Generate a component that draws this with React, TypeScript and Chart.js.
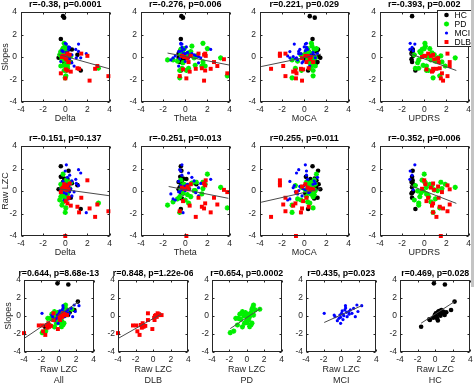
import React, { useEffect, useRef } from 'react';
import { Chart, registerables } from 'chart.js';

Chart.register(...registerables);

const FONT = '"Liberation Sans", Arial, Helvetica, sans-serif';
Chart.defaults.font.family = FONT;

// ---------------- data (z-scored values) ----------------
const GROUPS = ['HC', 'PD', 'MCI', 'DLB'];
const TICK_VALUES = [-4, -2, 0, 2, 4];

// HC
const HC_LZC = [-1.6, -0.67, -0.6, -0.22, -0.15, -0.04, 0.07, 0.15, 0.2, 0.33, 0.45, 0.52, 0.6, 0.7, 0.8, 0.96, 1.07, 1.1, 1.26, 1.8, 2.2, 0.3];
const HC_SLOPE = [-1.2, -0.37, -0.44, -0.19, 3.63, 0.11, 0.3, -0.07, -0.26, 0.48, 0.56, 0.19, 0.04, 0.67, 0.3, 0.48, 0.11, 3.5, 0.41, 0.67, 1.6, -0.5];
const HC_DELTA = [1.4, 0.1, 0.5, -0.3, -0.2, -0.1, 0.0, -0.6, 0.2, -0.3, 0.1, 1.1, 0.3, 0.6, -0.2, 0.0, 0.2, -0.1, -0.4, 0.3, -0.4, -0.1];
const HC_THETA = [-0.4, -0.3, -0.5, -0.2, -0.35, -0.4, -0.3, -0.6, -0.1, -0.5, -0.2, -0.3, 1.0, -0.4, -0.6, -0.3, 0.1, -0.2, -0.45, -0.35, -0.4, -0.25];
const HC_MOCA = [0.35, 0.9, 1.2, 0.1, 0.5, 0.6, 0.2, 1.45, 0.8, 0.4, 1.0, 0.7, 1.3, 0.9, 0.3, 1.1, 0.55, 0.95, 0.15, 1.25, 0.75, 1.1];
const HC_UPDRS = [-0.8, null, -1.1, -1.15, -1.1, -1.0, null, null, null, -1.1, null, null, null, -1.05, -1.15, -1.05, null, null, -1.1, -1.05, null, null];

// PD
const PD_LZC = [-1.9, -1.5, -1.26, -0.96, -1.07, -0.7, -0.5, -0.33, -0.26, -0.15, 0.04, 0.04, 0.1, 0.22, 0.33, 0.48, 0.6, 0.6, 0.7, 0.78, 0.48, 0.96, 0.33, 0.78, -0.5, 0.0, 1.5, -0.8];
const PD_SLOPE = [-1.85, -1.67, -0.26, -0.26, -1.0, -0.37, 0.48, 0.0, -0.8, 0.37, -0.07, -0.74, 0.22, -0.44, -1.18, 0.37, -0.8, 0.74, 0.96, 1.22, -1.0, 0.67, -0.07, 0.1, -1.2, -0.5, 0.75, 0.2];
const PD_DELTA = [0.0, 0.05, -0.3, -0.2, 3.0, 0.1, -0.4, 0.0, 0.2, -0.3, 0.3, -0.1, -0.2, 0.4, 0.1, -0.1, -0.4, -0.2, 0.0, -0.1, 0.2, 0.1, -0.3, 0.5, -0.1, 0.3, -0.2, -0.5];
const PD_THETA = [-0.5, 3.8, -1.6, -1.1, 0.3, -0.7, 0.5, 0.2, 1.5, -0.2, 0.8, 0.9, -0.4, 1.6, 0.1, 0.3, 1.8, -0.1, 0.6, 1.6, -0.3, -0.4, 3.2, 1.0, -0.5, -0.2, 2.0, 0.0];
const PD_MOCA = [-1.1, 0.8, -1.1, 0.3, 0.5, -0.6, 0.2, 0.9, 0.6, 0.4, 1.0, 0.7, 0.1, 0.8, -0.25, 0.5, 1.0, 0.3, 0.7, 0.65, -0.8, 0.9, 0.6, 0.2, 0.8, 0.5, 1.1, -0.3];
const PD_UPDRS = [0.8, 1.4, -0.5, 0.6, -0.5, 1.0, -0.4, 0.3, 0.2, -0.3, 1.2, -0.1, 0.9, 1.6, 0.2, 0.7, 1.9, 0.5, 0.1, 0.06, -0.8, -0.2, 2.8, 1.5, 0.4, -0.6, 0.0, -0.9];

// MCI
const MCI_LZC = [-1.93, -0.7, -0.44, -0.26, -0.15, -0.07, 0.04, 0.11, 0.19, 0.3, 0.41, 0.48, 0.6, 0.67, 0.85, 1.04, 1.22, 1.41, 1.6, 1.78, 2.33, -0.07, -0.8, 0.9, 0.2, 1.9, 0.5];
const MCI_SLOPE = [0.3, -0.07, -0.52, -0.26, 0.11, -0.15, 0.3, 0.56, 0.19, 0.04, 0.67, 1.15, 0.41, -0.07, 0.48, 0.67, 0.3, 0.85, -0.07, 1.22, 1.15, -0.81, 0.1, 0.2, -0.4, 0.5, 0.9];
const MCI_DELTA = [1.9, 0.3, 0.6, 0.1, -0.1, 0.4, 0.2, -0.3, 0.5, 0.0, 0.3, 1.2, 0.1, 1.0, -0.2, 0.95, 0.2, 0.4, 1.4, 0.0, 0.1, 0.8, -0.1, 0.6, -0.4, 1.2, 0.3];
const MCI_THETA = [-0.2, -1.1, 1.2, -1.3, 0.95, -0.5, 0.0, -0.3, 0.4, 1.2, -0.1, -0.4, 0.2, 1.4, -0.6, 2.3, 0.6, -0.3, 0.3, -0.4, -0.3, -0.6, -0.9, 0.8, 0.0, -0.5, 0.1];
const MCI_MOCA = [-0.3, -1.3, -0.2, -0.6, 0.4, -0.8, -0.5, 0.1, 0.6, -1.0, -0.4, -0.9, 0.8, 1.0, -1.3, 0.3, 1.2, 0.2, -0.7, 0.2, 0.1, 0.5, -1.5, 0.9, -0.1, -0.5, 0.0];
const MCI_UPDRS = [null, null, null, null, null, null, null, -1.0, null, null, null, null, null, null, null, -1.3, null, -1.1, null, -1.27, -0.85, null, null, null, null, null, null];

// DLB
const DLB_LZC = [-4.0, -2.3, -1.9, -1.8, -1.55, -1.4, -1.2, -1.1, -0.9, -0.6, -0.6, -0.1, 0.1, 0.15, 0.3, 0.4, 0.5, 0.6, 0.67, 0.95, 0.2, -1.3];
const DLB_SLOPE = [-1.9, -1.05, -1.05, -1.7, -2.1, -1.0, -0.8, -1.2, -1.1, -0.45, 0.3, -1.45, -0.2, -0.45, 0.1, -0.1, 0.3, 0.1, 0.2, 0.1, 0.0, -1.3];
const DLB_DELTA = [0.0, 2.7, 1.25, 3.9, 2.2, 1.1, 2.9, 0.2, 0.05, 0.3, 1.45, -0.4, 0.1, 0.3, -0.2, 0.0, 0.2, -0.1, 0.4, 2.0, -0.3, 0.5];
const DLB_THETA = [0.1, 0.95, 2.3, -0.5, 1.7, 1.5, 2.9, 1.8, -0.2, 2.6, 1.2, 3.8, 3.5, 0.3, -0.3, 0.2, 1.8, 0.5, 1.7, 1.85, -0.1, 0.4];
const DLB_MOCA = [-0.75, -3.0, -0.3, -1.7, -0.2, 0.4, -1.9, -0.8, -0.1, 0.2, -1.7, -0.7, 0.5, 0.8, 0.3, -0.2, -2.2, 0.1, -2.2, -2.2, 0.6, -1.0];
const DLB_UPDRS = [1.5, 1.1, 0.8, 2.1, 1.7, 1.4, 2.3, 0.8, 0.2, 1.3, 0.35, 1.6, 0.9, 2.3, 0.6, 1.25, 2.1, 0.1, 0.8, 0.0, -0.2, 0.7];

// least-squares lines [x1, y1, x2, y2]
const ROW1_FITS = [[-0.6, 0.22, 4, -1.05], [-1.6, 0.35, 4, -0.72], [-3.9, -0.85, 1.5, 0.25], [-1.3, 0.3, 2.9, -1.2]];
const ROW2_FITS = [[-0.6, 0.2, 4, -0.42], [-1.5, 0.4, 3.9, -0.65], [-3.9, -1.0, 1.5, 0.2], [-1.3, 0.5, 2.9, -1.1]];
const ROW3_FITS = [[-4, -2.5, 2.3, 1.6], [-4, -2.5, 0.95, 0.25], [-1.9, -1.4, 1.6, 0.85], [-1.93, -0.72, 2.33, 1.15], [-1.6, -0.8, 2.2, 1.6]];

const ROW1_TITLES = ['r=-0.38, p=0.0001', 'r=-0.276, p=0.006', 'r=0.221, p=0.029', 'r=-0.393, p=0.002'];
const ROW2_TITLES = ['r=-0.151, p=0.137', 'r=-0.251, p=0.013', 'r=0.255, p=0.011', 'r=-0.352, p=0.006'];
const ROW3_TITLES = ['r=0.644, p=8.68e-13', 'r=0.848, p=1.22e-06', 'r=0.654, p=0.0002', 'r=0.435, p=0.023', 'r=0.469, p=0.028'];

const X_VARS = ['delta', 'theta', 'moca', 'updrs'];
const X_LABELS = ['Delta', 'Theta', 'MoCA', 'UPDRS'];
const ROW3_SUBSETS = ['All', 'DLB', 'PD', 'MCI', 'HC'];
const Y_LABELS = ['Slopes', 'Raw LZC', 'Slopes'];

// ---------------- tables built from the arrays ----------------
const GROUP_DATA: any = {
  HC: { lzc: HC_LZC, slope: HC_SLOPE, delta: HC_DELTA, theta: HC_THETA, moca: HC_MOCA, updrs: HC_UPDRS },
  PD: { lzc: PD_LZC, slope: PD_SLOPE, delta: PD_DELTA, theta: PD_THETA, moca: PD_MOCA, updrs: PD_UPDRS },
  MCI: { lzc: MCI_LZC, slope: MCI_SLOPE, delta: MCI_DELTA, theta: MCI_THETA, moca: MCI_MOCA, updrs: MCI_UPDRS },
  DLB: { lzc: DLB_LZC, slope: DLB_SLOPE, delta: DLB_DELTA, theta: DLB_THETA, moca: DLB_MOCA, updrs: DLB_UPDRS },
};

const GROUP_STYLE: any = {
  HC: { pointStyle: 'circle', radius: 2.3, color: '#000000', bw: 0, order: 4 },
  PD: { pointStyle: 'star', radius: 2.6, color: '#00f000', bw: 1.5, order: 3 },
  MCI: { pointStyle: 'circle', radius: 1.6, color: '#0000ff', bw: 0, order: 2 },
  DLB: { pointStyle: 'rect', radius: 2.8, color: '#ff0000', bw: 0, order: 1 },
};

function groupDataset(g: string, xKey: string, yKey: string) {
  const d = GROUP_DATA[g];
  const pts: any[] = [];
  d[xKey].forEach((xv: number | null, i: number) => {
    const yv = d[yKey][i];
    if (xv !== null && yv !== null) pts.push({ x: xv, y: yv });
  });
  const s = GROUP_STYLE[g];
  return {
    label: g,
    data: pts,
    pointStyle: s.pointStyle,
    pointRadius: s.radius,
    backgroundColor: s.color,
    borderColor: s.color,
    pointBorderWidth: s.bw,
    borderWidth: s.bw,
    order: s.order,
    clip: false,
  };
}

function fitDataset(f: number[]) {
  return {
    label: 'fit',
    data: [{ x: f[0], y: f[1] }, { x: f[2], y: f[3] }],
    showLine: true,
    borderColor: '#4a4a4a',
    borderWidth: 1,
    pointRadius: 0,
    order: 0,
  };
}

// ---------------- decoration plugin (box, inward ticks, title, legend) ----------------
const decorPlugin = {
  id: 'decor',
  afterDraw(chart: any, _args: any, opts: any) {
    const { ctx, chartArea: a } = chart;
    ctx.save();
    const l = Math.round(a.left) + 0.5;
    const t = Math.round(a.top) + 0.5;
    const r = Math.round(a.right) - 0.5;
    const b = Math.round(a.bottom) - 0.5;
    ctx.strokeStyle = '#262626';
    ctx.lineWidth = 1;
    ctx.strokeRect(l, t, r - l, b - t);
    const xs = chart.scales.x;
    const ys = chart.scales.y;
    ctx.beginPath();
    for (const v of TICK_VALUES) {
      const px = Math.round(xs.getPixelForValue(v)) + 0.5;
      ctx.moveTo(px, b); ctx.lineTo(px, b - 2);
      ctx.moveTo(px, t); ctx.lineTo(px, t + 2);
      const py = Math.round(ys.getPixelForValue(v)) + 0.5;
      ctx.moveTo(l, py); ctx.lineTo(l + 2, py);
      ctx.moveTo(r, py); ctx.lineTo(r - 2, py);
    }
    ctx.stroke();

    ctx.fillStyle = '#000000';
    ctx.font = `bold ${opts.titleSize}px ${FONT}`;
    ctx.textAlign = 'center';
    ctx.textBaseline = 'middle';
    ctx.fillText(opts.title, (a.left + a.right) / 2, a.top - opts.titleGap);

    if (opts.legend) {
      const bx = Math.round(a.right) - 32 + 0.5;
      const by = Math.round(a.top) - 2 + 0.5;
      ctx.fillStyle = '#ffffff';
      ctx.fillRect(bx, by, 34, 36);
      ctx.strokeStyle = '#262626';
      ctx.strokeRect(bx, by, 34, 36);
      ctx.font = `8.5px ${FONT}`;
      ctx.textAlign = 'left';
      GROUPS.forEach((g, i) => {
        const s = GROUP_STYLE[g];
        const mx = a.right - 22;
        const my = a.top + 3 + i * 9;
        ctx.fillStyle = s.color;
        ctx.strokeStyle = s.color;
        if (s.pointStyle === 'circle') {
          ctx.beginPath();
          ctx.arc(mx, my, s.radius, 0, Math.PI * 2);
          ctx.fill();
        } else if (s.pointStyle === 'rect') {
          const h = s.radius * Math.SQRT1_2;
          ctx.fillRect(mx - h, my - h, 2 * h, 2 * h);
        } else {
          ctx.lineWidth = s.bw;
          ctx.beginPath();
          const rr = s.radius;
          ctx.moveTo(mx - rr, my); ctx.lineTo(mx + rr, my);
          ctx.moveTo(mx, my - rr); ctx.lineTo(mx, my + rr);
          const d = rr * Math.SQRT1_2;
          ctx.moveTo(mx - d, my - d); ctx.lineTo(mx + d, my + d);
          ctx.moveTo(mx - d, my + d); ctx.lineTo(mx + d, my - d);
          ctx.stroke();
          ctx.lineWidth = 1;
        }
        ctx.fillStyle = '#000000';
        ctx.fillText(g, a.right - 14, my + 0.5);
      });
    }
    ctx.restore();
  },
};

// ---------------- panel component ----------------
type PanelProps = {
  left: number; top: number; w: number; h: number;
  L: number; T: number; R: number; B: number;
  datasets: any[]; title: string; titleSize: number; titleGap: number;
  xTitle: string | string[]; xTitlePad: number; xTickPad: number;
  yTitle: string | null; yTitlePad: number; yTickPad: number;
  legend: boolean;
};

function Panel(p: PanelProps) {
  const ref = useRef<HTMLCanvasElement | null>(null);
  const cw = p.L + p.w + p.R;
  const ch = p.T + p.h + p.B;
  useEffect(() => {
    const canvas = ref.current;
    if (!canvas) return;
    const chart = new Chart(canvas, {
      type: 'scatter',
      data: { datasets: p.datasets },
      options: {
        animation: false,
        responsive: false,
        devicePixelRatio: 1,
        events: [],
        layout: { padding: { left: 0, top: p.T, right: p.R, bottom: 0 } },
        plugins: {
          legend: { display: false },
          tooltip: { enabled: false },
          title: { display: false },
          decor: { title: p.title, titleSize: p.titleSize, titleGap: p.titleGap, legend: p.legend },
        } as any,
        scales: {
          x: {
            type: 'linear',
            min: -4,
            max: 4,
            ticks: { stepSize: 2, autoSkip: false, maxRotation: 0, padding: p.xTickPad, color: '#262626', font: { size: 8.5 } },
            grid: { display: false, drawTicks: false },
            border: { display: false },
            title: { display: true, text: p.xTitle, color: '#262626', font: { size: 9 }, padding: { top: 0, bottom: p.xTitlePad } },
            afterFit: (s: any) => { s.height = p.B; },
          },
          y: {
            type: 'linear',
            min: -4,
            max: 4,
            ticks: { stepSize: 2, autoSkip: false, padding: p.yTickPad, color: '#262626', font: { size: 8.5 } },
            grid: { display: false, drawTicks: false },
            border: { display: false },
            title: { display: !!p.yTitle, text: p.yTitle || '', color: '#262626', font: { size: 9 }, padding: { top: p.yTitlePad, bottom: 0 } },
            afterFit: (s: any) => { s.width = p.L; },
          },
        },
      } as any,
      plugins: [decorPlugin as any],
    });
    return () => chart.destroy();
  }, []);
  return (
    <div style={{ position: 'absolute', left: p.left - p.L, top: p.top - p.T, width: cw, height: ch }}>
      <canvas ref={ref} width={cw} height={ch} style={{ display: 'block', width: cw, height: ch }} />
    </div>
  );
}

// ---------------- layout ----------------
const ROW12_LEFTS = [21, 141, 260, 380];
const ROW3_LEFTS = [24, 118, 212, 306, 400];

function buildPanels(): PanelProps[] {
  const out: PanelProps[] = [];
  const rows = [
    { top: 12, T: 12, yKey: 'slope', titles: ROW1_TITLES, fits: ROW1_FITS, yLabel: Y_LABELS[0] },
    { top: 146, T: 14, yKey: 'lzc', titles: ROW2_TITLES, fits: ROW2_FITS, yLabel: Y_LABELS[1] },
  ];
  rows.forEach((row, ri) => {
    X_VARS.forEach((xv, ci) => {
      const ds: any[] = [fitDataset(row.fits[ci])];
      GROUPS.forEach((g) => ds.push(groupDataset(g, xv, row.yKey)));
      out.push({
        left: ROW12_LEFTS[ci], top: row.top, w: 90, h: 90,
        L: 21, T: row.T, R: 4, B: 24,
        datasets: ds, title: row.titles[ci], titleSize: 9, titleGap: 7,
        xTitle: X_LABELS[ci], xTitlePad: 1.6, xTickPad: 3,
        yTitle: ci === 0 ? row.yLabel : null, yTitlePad: 0, yTickPad: 4,
        legend: ri === 0 && ci === 3,
      });
    });
  });
  ROW3_SUBSETS.forEach((sub, ci) => {
    const ds: any[] = [fitDataset(ROW3_FITS[ci])];
    const gs = sub === 'All' ? GROUPS : [sub];
    gs.forEach((g) => ds.push(groupDataset(g, 'lzc', 'slope')));
    out.push({
      left: ROW3_LEFTS[ci], top: 280, w: 72, h: 72,
      L: 24, T: 14, R: 3, B: 34,
      datasets: ds, title: ROW3_TITLES[ci], titleSize: 8.8, titleGap: 6,
      xTitle: ['Raw LZC', sub], xTitlePad: 0, xTickPad: 2.2,
      yTitle: ci === 0 ? Y_LABELS[2] : null, yTitlePad: 3.6, yTickPad: 3,
      legend: false,
    });
  });
  return out;
}

const PANELS = buildPanels();

export default function App() {
  return (
    <div style={{ position: 'fixed', left: 0, top: 0, width: 474, height: 386, background: '#ffffff', overflow: 'hidden' }}>
      {PANELS.map((p, i) => (
        <Panel key={i} {...p} />
      ))}
      <div style={{ position: 'absolute', left: 471, top: 0, width: 3, height: 287, background: '#c4c4c4' }} />
    </div>
  );
}
